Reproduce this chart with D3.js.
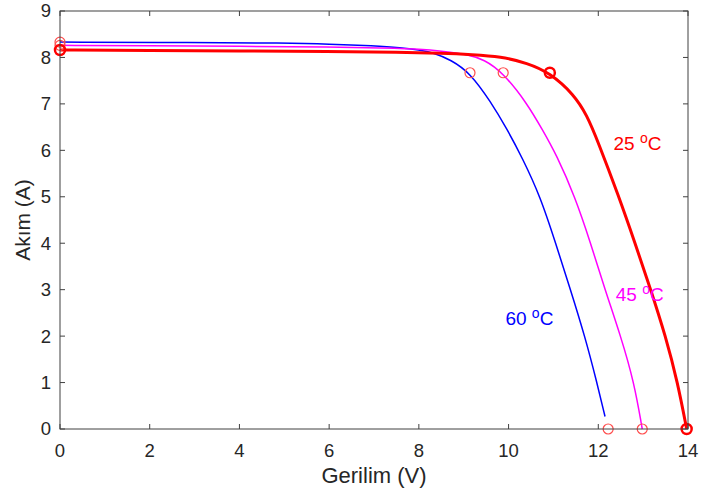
<!DOCTYPE html>
<html>
<head>
<meta charset="utf-8">
<script src="https://cdn.jsdelivr.net/npm/d3@7"></script>
<style>
  body { margin: 0; background: #fff; }
  text { font-family: "Liberation Sans", Arial, sans-serif; }
</style>
</head>
<body>
<div id="chart"></div>
<script>
// Curves: voltage (V) and current (A).
const v25 = [0, 2, 4, 6, 7.6, 8.5, 9.2, 9.82, 10.42, 10.92, 11.46, 11.75, 11.98, 12.46, 12.82, 13.17, 13.5, 13.77, 13.97];
const i25 = [8.16, 8.15, 8.14, 8.13, 8.11, 8.09, 8.06, 8.02, 7.88, 7.67, 7.2, 6.75, 6.22, 5.0, 4.0, 3.0, 2.0, 1.0, 0];

const v45 = [0, 2, 4, 6, 7.6, 8.3, 8.7, 9.08, 9.45, 9.88, 10.42, 10.75, 11.07, 11.48, 11.83, 12.15, 12.5, 12.8, 12.98];
const i45 = [8.26, 8.25, 8.24, 8.23, 8.2, 8.16, 8.11, 8.06, 7.96, 7.67, 7.0, 6.45, 5.9, 5.0, 4.0, 3.0, 2.0, 1.0, 0];

const v60 = [0, 3, 5, 6, 7, 7.6, 8.0, 8.33, 8.71, 9.14, 9.6, 9.97, 10.3, 10.71, 11.05, 11.38, 11.7, 11.97, 12.15];
const i60 = [8.33, 8.32, 8.31, 8.29, 8.25, 8.21, 8.16, 8.1, 7.95, 7.67, 7.05, 6.45, 5.85, 5.0, 4.0, 3.0, 2.0, 1.0, 0.27];

// Marked points: short circuit, max power, open circuit.
const markV = [0, 0, 0, 9.14, 9.88, 10.92, 12.22, 12.98, 13.97];
const markI = [8.33, 8.26, 8.16, 7.67, 7.67, 7.67, 0, 0, 0];
const markThick = [false, false, true, false, false, true, false, false, true];

const xTicks = [0, 2, 4, 6, 8, 10, 12, 14];
const yTicks = [0, 1, 2, 3, 4, 5, 6, 7, 8, 9];

const seriesNames = ['25', '45', '60'];
const labelV = [12.34, 12.39, 9.93];
const labelI = [6.0, 2.75, 2.24];

const width = 704, height = 495;
const margin = {top: 11, right: 16, bottom: 66, left: 60};
const axisColor = '#404040';
const textColor = '#262626';

const svg = d3.select('#chart')
  .append('svg')
    .attr('width', width)
    .attr('height', height);

const x = d3.scaleLinear()
  .domain([0, 14])
  .range([margin.left, width - margin.right]);

const y = d3.scaleLinear()
  .domain([0, 9])
  .range([height - margin.bottom, margin.top]);

const series = [
  {v: v25, i: i25, color: '#ff0000', w: 3},
  {v: v45, i: i45, color: '#ff00ff', w: 1.5},
  {v: v60, i: i60, color: '#0000ff', w: 1.5}
];

const line = d3.line()
  .x(d => x(d[0]))
  .y(d => y(d[1]))
  .curve(d3.curveBasis);

// draw thin ones first so red sits on top
for (const s of series.slice().reverse()) {
  svg.append('path')
    .datum(d3.zip(s.v, s.i))
    .attr('fill', 'none')
    .attr('stroke', s.color)
    .attr('stroke-width', s.w)
    .attr('d', line);
}

svg.selectAll('.mark')
  .data(d3.range(markV.length))
  .enter()
  .append('circle')
    .attr('cx', k => x(markV[k]))
    .attr('cy', k => y(markI[k]))
    .attr('r', 5)
    .attr('fill', 'none')
    .attr('stroke', k => markThick[k] ? '#ff0000' : '#ff4d4d')
    .attr('stroke-width', k => markThick[k] ? 2.5 : 1.2);

// Axes box with inward ticks on all four sides
const tick = 5;
const axG = svg.append('g')
  .attr('font-size', '18.5px')
  .attr('fill', textColor);

axG.append('rect')
  .attr('x', x(0))
  .attr('y', y(9))
  .attr('width', x(14) - x(0))
  .attr('height', y(0) - y(9))
  .attr('fill', 'none')
  .attr('stroke', axisColor)
  .attr('stroke-width', 1);

axG.selectAll('.xt')
  .data(xTicks)
  .enter()
  .append('path')
    .attr('d', d => `M${x(d)},${y(0)}v${-tick}M${x(d)},${y(9)}v${tick}`)
    .attr('stroke', axisColor);

axG.selectAll('.yt')
  .data(yTicks)
  .enter()
  .append('path')
    .attr('d', d => `M${x(0)},${y(d)}h${tick}M${x(14)},${y(d)}h${-tick}`)
    .attr('stroke', axisColor);

axG.selectAll('.xl')
  .data(xTicks)
  .enter()
  .append('text')
    .attr('x', d => x(d))
    .attr('y', y(0) + 28)
    .attr('text-anchor', 'middle')
    .text(d => d);

axG.selectAll('.yl')
  .data(yTicks)
  .enter()
  .append('text')
    .attr('x', x(0) - 9)
    .attr('y', d => y(d))
    .attr('dy', '0.35em')
    .attr('text-anchor', 'end')
    .text(d => d);

svg.append('text')
  .attr('x', (x(0) + x(14)) / 2)
  .attr('y', 483)
  .attr('text-anchor', 'middle')
  .attr('font-size', '22px')
  .attr('fill', textColor)
  .text('Gerilim (V)');

svg.append('text')
  .attr('transform', 'rotate(-90)')
  .attr('x', -220)
  .attr('y', 30)
  .attr('text-anchor', 'middle')
  .attr('font-size', '21px')
  .attr('fill', textColor)
  .text('Akım (A)');

// Temperature labels
const labelColors = ['#ff0000', '#ff00ff', '#0000ff'];
seriesNames.forEach((name, k) => {
  const t = svg.append('text')
    .attr('x', x(labelV[k]))
    .attr('y', y(labelI[k]))
    .attr('font-size', '19px')
    .attr('fill', labelColors[k]);
  t.append('tspan').text(name + ' ');
  t.append('tspan').attr('font-size', '14px').attr('dy', -7).text('o');
  t.append('tspan').attr('dy', 7).text('C');
});
</script>
</body>
</html>
